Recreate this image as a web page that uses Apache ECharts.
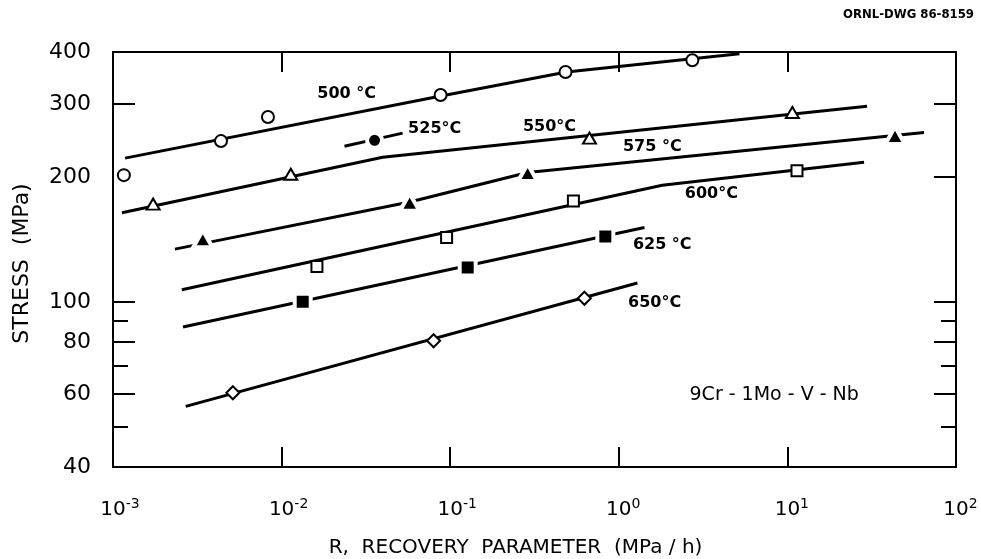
<!DOCTYPE html>
<html>
<head>
<meta charset="utf-8">
<script src="https://cdn.jsdelivr.net/npm/echarts@6/dist/echarts.min.js"></script>
<style>
  html, body { margin: 0; padding: 0; background: #fff; }
  #chart { width: 981px; height: 559px; }
</style>
</head>
<body>
<div id="chart"></div>
<script>
// fitted curves, [R (MPa/h), stress (MPa)]
const fit500 = [[0.00118, 222], [0.0866, 313], [0.49, 358], [5.2, 396]];
const fit525 = [[0.0236, 237], [0.0522, 255]];
const fit550 = [[0.00113, 164], [0.0398, 223], [29.7, 296]];
const fit575 = [[0.00233, 134], [0.0575, 174], [0.288, 205], [64.6, 256]];
const fit600 = [[0.00256, 107], [1.81, 191], [28.5, 217]];
const fit625 = [[0.0026, 87], [1.42, 151]];
const fit650 = [[0.0027, 56], [1.29, 111]];

// measured points
const pts500 = [[0.00116, 202], [0.00437, 244], [0.0083, 279], [0.0877, 315], [0.483, 358], [2.73, 382]];
const pts525 = [[0.0356, 245]];
const pts550 = [[0.00173, 172], [0.01134, 203], [0.67, 248], [10.7, 286]];
const pts575 = [[0.00341, 142], [0.0575, 174], [0.288, 205], [43.5, 252]];
const pts600 = [[0.0162, 121.6], [0.0952, 143], [0.538, 175], [11.4, 207]];
const pts625 = [[0.01334, 100], [0.127, 121], [0.832, 143.7]];
const pts650 = [[0.00514, 60.4], [0.0797, 80.6], [0.625, 102]];

// curve labels
const tempLabels = [
  [0.0243, 317, "500 °C"],
  [0.0809, 261, "525°C"],
  [0.388, 264, "550°C"],
  [1.58, 236, "575 °C"],
  [3.54, 182, "600°C"],
  [1.81, 137.5, "625 °C"],
  [1.63, 99.6, "650°C"]
];
const alloyLabel = [[8.35, 59.7, "9Cr - 1Mo - V - Nb"]];

const yLabels = [40, 60, 80, 100, 200, 300, 400];
const yMajorLeft = [300, 100, 80, 60];
const yMajorRight = [300, 200, 100, 80, 60];
const yMinor = [90, 70, 50];

const FONT = "DejaVu Sans";
const INK = "#000";

const chart = echarts.init(document.getElementById("chart"));

function fitLine(data) {
  return {
    type: "line",
    data: data,
    symbol: "none",
    z: 2,
    lineStyle: { color: INK, width: 3 },
    silent: true
  };
}

function openPts(data, symbol, size) {
  return {
    type: "scatter",
    data: data,
    symbol: symbol,
    symbolSize: size,
    z: 3,
    itemStyle: { color: "#fff", borderColor: INK, borderWidth: 2, opacity: 1 }
  };
}

// filled marks get a white rim so the curve stops short of them
function filledPts(data, symbol, size) {
  return {
    type: "scatter",
    data: data,
    symbol: symbol,
    symbolSize: size,
    z: 3,
    itemStyle: { color: INK, borderColor: "#fff", borderWidth: 4, opacity: 1 }
  };
}

function textPts(data, size, weight) {
  return {
    type: "scatter",
    data: data,
    symbolSize: 0,
    z: 4,
    silent: true,
    itemStyle: { opacity: 1 },
    label: {
      show: true,
      position: "inside",
      formatter: function (p) { return p.data[2]; },
      fontFamily: FONT,
      fontSize: size,
      fontWeight: weight,
      color: INK,
      opacity: 1
    }
  };
}

function yAxisDef(pos, ticks, len, showLine, showLabels) {
  return {
    type: "log",
    position: pos,
    min: 40,
    max: 400,
    logBase: 10,
    splitLine: { show: false },
    axisLine: { show: showLine, onZero: false, lineStyle: { color: INK, width: 2 } },
    axisTick: {
      show: true, inside: true, length: len, customValues: ticks,
      lineStyle: { color: INK, width: 2 }
    },
    axisLabel: showLabels ? {
      show: true, customValues: yLabels, margin: 22,
      fontFamily: FONT, fontSize: 22, color: INK, padding: [4, 0, 0, 0]
    } : { show: false }
  };
}

const option = {
  animation: false,
  grid: { left: 113, right: 25, top: 52, bottom: 92, outerBoundsMode: "none", containLabel: false },
  xAxis: [
    {
      type: "log",
      min: 0.001,
      max: 100,
      logBase: 10,
      position: "bottom",
      splitLine: { show: false },
      axisLine: { show: true, onZero: false, lineStyle: { color: INK, width: 2 } },
      axisTick: { show: true, inside: true, length: 20, lineStyle: { color: INK, width: 2 } },
      axisLabel: {
        margin: 30,
        fontSize: 20,
        showMinLabel: true,
        showMaxLabel: true,
        formatter: function (v) {
          const e = Math.round(Math.log10(v));
          // invisible copy of the exponent on the left keeps "10" centred on the tick
          return "{p|" + e + "}{b|10}{s|" + e + "}";
        },
        rich: {
          p: { fontFamily: FONT, fontSize: 14, color: "rgba(0,0,0,0)" },
          b: { fontFamily: FONT, fontSize: 20, color: INK },
          s: { fontFamily: FONT, fontSize: 14, color: INK, verticalAlign: "top", padding: [0, 0, 12, 0] }
        }
      },
      name: "R,  RECOVERY  PARAMETER  (MPa / h)",
      nameLocation: "middle",
      nameGap: 71,
      nameTextStyle: { fontFamily: FONT, fontSize: 20, color: INK, padding: [0, 38, 0, 0] }
    },
    {
      type: "log",
      min: 0.001,
      max: 100,
      logBase: 10,
      position: "top",
      splitLine: { show: false },
      axisLine: { show: true, onZero: false, lineStyle: { color: INK, width: 2 } },
      axisTick: { show: true, inside: true, length: 20, lineStyle: { color: INK, width: 2 } },
      axisLabel: { show: false }
    }
  ],
  yAxis: [
    Object.assign(yAxisDef("left", yMajorLeft, 22, true, true), {
      name: "STRESS  (MPa)",
      nameLocation: "middle",
      nameRotate: 90,
      nameGap: 80,
      nameTextStyle: { fontFamily: FONT, fontSize: 22, color: INK, padding: [0, 8, 0, 0] }
    }),
    yAxisDef("left", yMinor, 15, false, false),
    yAxisDef("right", yMajorRight, 22, true, false),
    yAxisDef("right", yMinor, 15, false, false)
  ],
  graphic: [
    {
      type: "text",
      right: 7,
      top: 8,
      style: {
        text: "ORNL-DWG 86-8159",
        font: "bold 13px 'DejaVu Sans Condensed', 'DejaVu Sans'",
        fill: INK
      }
    }
  ],
  series: [
    fitLine(fit500),
    fitLine(fit525),
    fitLine(fit550),
    fitLine(fit575),
    fitLine(fit600),
    fitLine(fit625),
    fitLine(fit650),
    openPts(pts500, "circle", 12),
    filledPts(pts525, "circle", 15),
    openPts(pts550, "triangle", [13, 11]),
    filledPts(pts575, "triangle", [19, 17]),
    openPts(pts600, "rect", 11),
    filledPts(pts625, "rect", 16),
    openPts(pts650, "diamond", [13, 13]),
    textPts(tempLabels, 16, "bold"),
    textPts(alloyLabel, 19, "normal")
  ]
};

chart.setOption(option);
</script>
</body>
</html>
